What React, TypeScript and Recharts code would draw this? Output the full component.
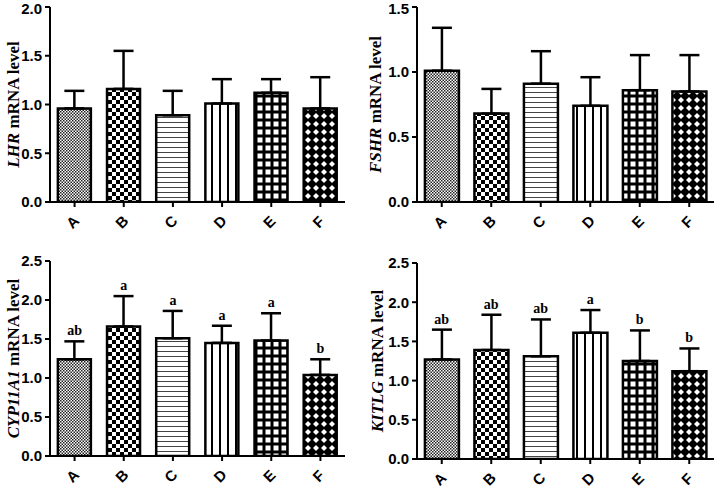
import React from 'react'
import { Bar, Cell, ComposedChart, ErrorBar, Scatter, XAxis, YAxis } from 'recharts'

const groups = ['A', 'B', 'C', 'D', 'E', 'F']

const lhrMean = [0.96, 1.16, 0.89, 1.01, 1.12, 0.96]
const lhrErr = [0.18, 0.39, 0.25, 0.25, 0.14, 0.32]

const fshrMean = [1.01, 0.68, 0.91, 0.74, 0.86, 0.85]
const fshrErr = [0.33, 0.19, 0.25, 0.22, 0.27, 0.28]

const cypMean = [1.24, 1.66, 1.51, 1.45, 1.48, 1.04]
const cypErr = [0.23, 0.39, 0.35, 0.22, 0.35, 0.2]
const cypSig = ['ab', 'a', 'a', 'a', 'a', 'b']

const kitMean = [1.27, 1.39, 1.31, 1.61, 1.25, 1.12]
const kitErr = [0.38, 0.45, 0.47, 0.29, 0.39, 0.29]
const kitSig = ['ab', 'ab', 'ab', 'a', 'b', 'b']

const ticks20 = [0, 0.5, 1, 1.5, 2]
const ticks15 = [0, 0.5, 1, 1.5]
const ticks25 = [0, 0.5, 1, 1.5, 2, 2.5]

const fills = ['url(#patA)', 'url(#patB)', 'url(#patC)', 'url(#patD)', 'url(#patE)', 'url(#patF)']

const sans = '"Liberation Sans", Arial, sans-serif'
const serif = '"Liberation Serif", "Times New Roman", serif'

function buildRows(mean: number[], err: number[], sig?: string[]) {
  return groups.map((g, i) => ({
    group: g,
    mean: mean[i],
    err: [0, err[i]],
    top: mean[i] + err[i],
    sig: sig ? sig[i] : '',
  }))
}

// bar fill patterns, shared by all four panels
function Patterns() {
  return (
    <svg width={0} height={0} style={{ position: 'absolute' }}>
      <defs>
        <pattern id="patA" width={3} height={3} patternUnits="userSpaceOnUse">
          <rect width={3} height={3} fill="#fff" />
          <rect width={1.5} height={1.5} fill="#222" />
          <rect x={1.5} y={1.5} width={1.5} height={1.5} fill="#222" />
        </pattern>
        <pattern id="patB" width={8} height={8} patternUnits="userSpaceOnUse">
          <rect width={8} height={8} fill="#fff" />
          <rect width={4} height={4} fill="#000" />
          <rect x={4} y={4} width={4} height={4} fill="#000" />
        </pattern>
        <pattern id="patC" width={5} height={5} patternUnits="userSpaceOnUse">
          <rect width={5} height={5} fill="#fff" />
          <rect y={2} width={5} height={1} fill="#444" />
        </pattern>
        <pattern id="patD" width={8} height={8} patternUnits="userSpaceOnUse">
          <rect width={8} height={8} fill="#fff" />
          <rect x={3} width={2} height={8} fill="#000" />
        </pattern>
        <pattern id="patE" width={8} height={8} patternUnits="userSpaceOnUse">
          <rect width={8} height={8} fill="#000" />
          <rect x={1.5} y={1.5} width={5} height={5} fill="#fff" />
        </pattern>
        <pattern id="patF" width={8} height={8} patternUnits="userSpaceOnUse">
          <rect width={8} height={8} fill="#000" />
          <polygon points="4,1 7,4 4,7 1,4" fill="#fff" />
        </pattern>
      </defs>
    </svg>
  )
}

interface PanelProps {
  rows: ReturnType<typeof buildRows>
  gene: string
  ticks: number[]
  left: number
  top: number
  yAxisWidth: number
  marginTop: number
  marginRight: number
  xAxisHeight: number
  labelX: number
  showSig?: boolean
}

function Panel(p: PanelProps) {
  const max = p.ticks[p.ticks.length - 1]

  const renderTick = (t: any) => (
    <g transform={`translate(${t.x - 2},${t.y + 13})`}>
      <text
        transform="rotate(-45)"
        textAnchor="middle"
        dy="0.35em"
        fontFamily={sans}
        fontWeight="bold"
        fontSize={15}
        fill="#000"
      >
        {t.payload.value}
      </text>
    </g>
  )

  const renderYLabel = (l: any) => {
    const vb = l.viewBox
    const cx = p.labelX
    const cy = vb.y + vb.height / 2
    return (
      <text
        transform={`rotate(-90 ${cx} ${cy})`}
        x={cx}
        y={cy}
        textAnchor="middle"
        dy="0.35em"
        fontFamily={serif}
        fontWeight="bold"
        fontSize={17}
        fill="#000"
      >
        <tspan fontStyle="italic">{p.gene}</tspan> mRNA level
      </text>
    )
  }

  const renderSig = (s: any) => (
    <text
      x={s.cx}
      y={s.cy - 6}
      textAnchor="middle"
      fontFamily={serif}
      fontWeight="bold"
      fontSize={14}
      fill="#000"
    >
      {s.payload.sig}
    </text>
  )

  return (
    <div style={{ position: 'absolute', left: p.left, top: p.top }}>
      <ComposedChart
        width={357}
        height={244}
        data={p.rows}
        margin={{ top: p.marginTop, right: p.marginRight, left: 0, bottom: 0 }}
        barCategoryGap="16%"
      >
        <XAxis
          dataKey="group"
          height={p.xAxisHeight}
          axisLine={{ stroke: '#000', strokeWidth: 2 }}
          tickLine={{ stroke: '#000', strokeWidth: 2 }}
          tickSize={5}
          tickMargin={2}
          tick={renderTick}
          interval={0}
        />
        <YAxis
          width={p.yAxisWidth}
          domain={[0, max]}
          ticks={p.ticks}
          allowDataOverflow
          axisLine={{ stroke: '#000', strokeWidth: 2 }}
          tickLine={{ stroke: '#000', strokeWidth: 2 }}
          tickSize={5}
          tickMargin={3}
          tickFormatter={(v: number) => v.toFixed(1)}
          tick={{ fontFamily: sans, fontWeight: 'bold', fontSize: 15, fill: '#000' }}
          label={{ content: renderYLabel }}
        />
        <Bar dataKey="mean" stroke="#000" strokeWidth={2.5} isAnimationActive={false}>
          {p.rows.map((r, i) => (
            <Cell key={r.group} fill={fills[i]} />
          ))}
          <ErrorBar dataKey="err" width={10} stroke="#000" strokeWidth={2.5} direction="y" />
        </Bar>
        {p.showSig && (
          <Scatter dataKey="top" shape={renderSig} isAnimationActive={false} />
        )}
      </ComposedChart>
    </div>
  )
}

export default function App() {
  return (
    <div
      style={{
        position: 'absolute',
        left: 0,
        top: 0,
        width: 714,
        height: 488,
        background: '#fff',
        overflow: 'hidden',
      }}
    >
      <Patterns />
      <Panel
        rows={buildRows(lhrMean, lhrErr)}
        gene="LHR"
        ticks={ticks20}
        left={0}
        top={0}
        yAxisWidth={50}
        marginTop={7}
        marginRight={12}
        xAxisHeight={42}
        labelX={13}
      />
      <Panel
        rows={buildRows(fshrMean, fshrErr)}
        gene="FSHR"
        ticks={ticks15}
        left={357}
        top={0}
        yAxisWidth={60}
        marginTop={7}
        marginRight={0}
        xAxisHeight={42}
        labelX={18}
      />
      <Panel
        rows={buildRows(cypMean, cypErr, cypSig)}
        gene="CYP11A1"
        ticks={ticks25}
        left={0}
        top={244}
        yAxisWidth={50}
        marginTop={17}
        marginRight={12}
        xAxisHeight={32}
        labelX={13}
        showSig
      />
      <Panel
        rows={buildRows(kitMean, kitErr, kitSig)}
        gene="KITLG"
        ticks={ticks25}
        left={357}
        top={244}
        yAxisWidth={60}
        marginTop={19}
        marginRight={0}
        xAxisHeight={29}
        labelX={20}
        showSig
      />
    </div>
  )
}
